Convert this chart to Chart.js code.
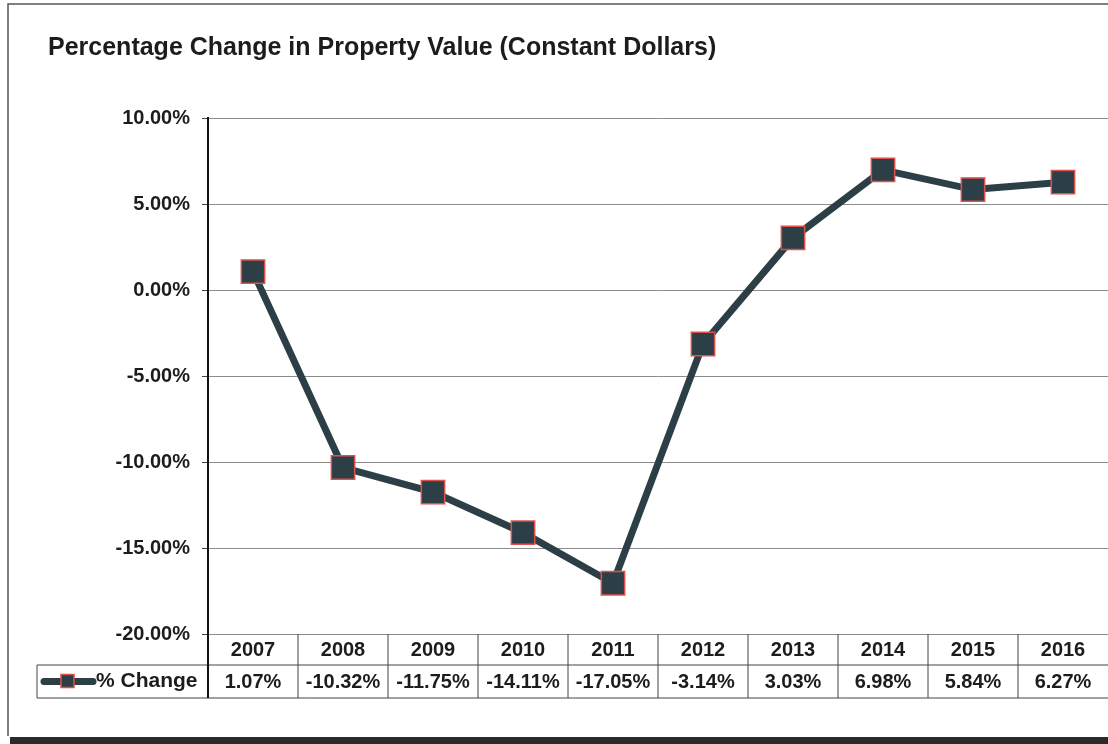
<!DOCTYPE html>
<html>
<head>
<meta charset="utf-8">
<script src="https://cdn.jsdelivr.net/npm/chart.js@4/dist/chart.umd.min.js"></script>
<style>
  html, body { margin: 0; padding: 0; background: #fff; overflow: hidden; }
  #wrap { width: 1108px; height: 744px; overflow: hidden; }
</style>
</head>
<body>
<div id="wrap"><canvas id="line-chart" width="1126" height="744"></canvas></div>
<script>
// data
var years = ['2007', '2008', '2009', '2010', '2011', '2012', '2013', '2014', '2015', '2016'];
var pctChange = [1.07, -10.32, -11.75, -14.11, -17.05, -3.14, 3.03, 6.98, 5.84, 6.27];
var yTicks = [10, 5, 0, -5, -10, -15, -20];
var seriesName = '% Change';

var lineColor = '#2c3f47';
var markerBorder = '#e0504a';
var textColor = '#1c1c1c';
var fontFam = '"Liberation Sans", Arial, sans-serif';

// frame of the scanned page + the data table under the plot
var tablePlugin = {
  id: 'tablePlugin',
  beforeDraw: function(chart) {
    var ctx = chart.ctx;
    ctx.save();
    ctx.fillStyle = '#fff';
    ctx.fillRect(0, 0, chart.width, chart.height);
    ctx.strokeStyle = '#555';
    ctx.lineWidth = 1.5;
    ctx.beginPath();
    ctx.moveTo(8, 736);
    ctx.lineTo(8, 4);
    ctx.lineTo(chart.width, 4);
    ctx.stroke();
    ctx.fillStyle = '#2a2a2a';
    ctx.fillRect(10, 737, chart.width - 10, 7);
    ctx.restore();
  },
  afterDraw: function(chart) {
    var ctx = chart.ctx;
    var area = chart.chartArea;
    var xs = chart.scales.x;
    var colW = (area.right - area.left) / years.length;
    var top = area.bottom, mid = area.bottom + 31, bot = area.bottom + 64;
    var legLeft = 37;
    ctx.save();
    ctx.strokeStyle = '#444';
    ctx.lineWidth = 1;
    ctx.beginPath();
    ctx.moveTo(legLeft, mid); ctx.lineTo(area.right, mid);
    ctx.moveTo(legLeft, bot); ctx.lineTo(area.right, bot);
    ctx.moveTo(legLeft, mid); ctx.lineTo(legLeft, bot);
    for (var i = 1; i < years.length; i++) {
      var bx = area.left + i * colW;
      ctx.moveTo(bx, top); ctx.lineTo(bx, bot);
    }
    ctx.stroke();
    // axis line continues down through the table
    ctx.strokeStyle = '#111';
    ctx.lineWidth = 2;
    ctx.beginPath();
    ctx.moveTo(area.left, top); ctx.lineTo(area.left, bot);
    ctx.stroke();

    // values row
    ctx.fillStyle = textColor;
    ctx.font = 'bold 20px ' + fontFam;
    ctx.textAlign = 'center';
    ctx.textBaseline = 'middle';
    for (var j = 0; j < pctChange.length; j++) {
      ctx.fillText(pctChange[j].toFixed(2) + '%', xs.getPixelForTick(j), (mid + bot) / 2 + 1);
    }

    // legend key
    var ly = (mid + bot) / 2;
    ctx.strokeStyle = lineColor;
    ctx.lineWidth = 7;
    ctx.lineCap = 'round';
    ctx.beginPath();
    ctx.moveTo(44, ly); ctx.lineTo(93, ly);
    ctx.stroke();
    ctx.fillStyle = lineColor;
    ctx.fillRect(61, ly - 7, 13, 13);
    ctx.strokeStyle = markerBorder;
    ctx.lineWidth = 1.5;
    ctx.strokeRect(61, ly - 7, 13, 13);
    ctx.fillStyle = textColor;
    ctx.textAlign = 'left';
    ctx.font = 'bold 21px ' + fontFam;
    ctx.fillText(seriesName, 96, ly);
    ctx.restore();
  }
};

new Chart(document.getElementById('line-chart'), {
  type: 'line',
  data: {
    labels: years,
    datasets: [{
      label: seriesName,
      data: pctChange,
      borderColor: lineColor,
      borderWidth: 7,
      backgroundColor: lineColor,
      pointStyle: 'rect',
      pointRadius: 16.5,
      pointBorderColor: markerBorder,
      pointBorderWidth: 1.5,
      pointBackgroundColor: lineColor,
      tension: 0
    }]
  },
  plugins: [tablePlugin],
  options: {
    responsive: false,
    animation: false,
    layout: { padding: { left: 48, right: 0, top: 0, bottom: 0 } },
    plugins: {
      legend: { display: false },
      tooltip: { enabled: false },
      title: {
        display: true,
        text: 'Percentage Change in Property Value (Constant Dollars)',
        align: 'start',
        color: textColor,
        font: { family: fontFam, size: 25, weight: 'bold' },
        padding: { top: 33, bottom: 55 }
      }
    },
    scales: {
      x: {
        offset: true,
        grid: { display: false, drawTicks: false },
        border: { display: false },
        ticks: {
          color: textColor,
          padding: 4,
          maxRotation: 0,
          font: { family: fontFam, size: 20, weight: 'bold' }
        },
        afterFit: function(scale) {
          scale.height = 110;
        }
      },
      y: {
        min: -20,
        max: 10,
        afterBuildTicks: function(scale) {
          scale.ticks = yTicks.map(function(v) { return { value: v }; });
        },
        grid: { color: '#8c8c8c', lineWidth: 1, tickLength: 6, tickColor: '#444' },
        border: { display: true, color: '#111', width: 2 },
        ticks: {
          color: textColor,
          padding: 12,
          font: { family: fontFam, size: 20, weight: 'bold' },
          callback: function(v) { return v.toFixed(2) + '%'; }
        },
        afterFit: function(scale) { scale.width = 160; }
      }
    }
  }
});
</script>
</body>
</html>
